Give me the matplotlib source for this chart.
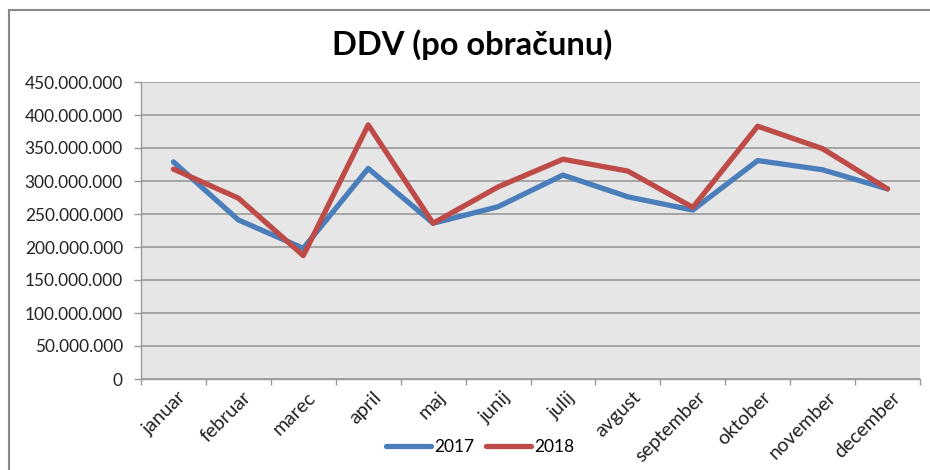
import matplotlib
matplotlib.use("Agg")
import matplotlib.pyplot as plt
from matplotlib.patches import Rectangle
from matplotlib.ticker import FuncFormatter, FixedLocator
from matplotlib.transforms import ScaledTranslation

plt.rcParams['font.family'] = ['Lato', 'DejaVu Sans']

months = ["januar", "februar", "marec", "april", "maj", "junij", "julij",
          "avgust", "september", "oktober", "november", "december"]
v2017 = [329e6, 241e6, 198e6, 319e6, 236e6, 261e6, 309e6, 276e6, 256e6, 331e6, 317e6, 288e6]
v2018 = [318e6, 274e6, 187e6, 385e6, 236e6, 291e6, 333e6, 315e6, 260e6, 383e6, 349e6, 288e6]
yticks = [0, 50e6, 100e6, 150e6, 200e6, 250e6, 300e6, 350e6, 400e6, 450e6]

fig = plt.figure(figsize=(9.3, 4.7), dpi=100)
ax = fig.add_axes([141/930, 1-379/470, (920-141)/930, (379-82)/470])
ax.set_facecolor('#E6E6E6')

x = list(range(len(months)))
ax.plot(x, v2017, color='#4A7EBB', lw=3.8, label='2017', solid_capstyle='round', solid_joinstyle='round')
ax.plot(x, v2018, color='#BE4B48', lw=3.8, label='2018', solid_capstyle='round', solid_joinstyle='round')

ax.set_xlim(-0.5, len(months)-0.5)
ax.set_ylim(0, 450e6)
ax.set_yticks(yticks)
ax.yaxis.set_major_formatter(FuncFormatter(lambda v, p: f"{int(v):,}".replace(",", ".")))
ax.tick_params(axis='y', labelsize=12.4, length=5, color='#999999', width=1, pad=8, labelcolor='#222222')
ax.grid(axis='y', color='#A0A0A0', lw=1.3)
ax.set_axisbelow(True)
# hide 400M gridline and tick (as in reference)
for t in ax.yaxis.get_major_ticks():
    if abs(t.get_loc() - 400e6) < 1:
        t.gridline.set_visible(False)
        t.tick1line.set_visible(False)

ax.set_xticks(x)
ax.set_xticklabels(months, rotation=45, ha='right', va='top', rotation_mode='anchor', fontsize=14, color='#222222')
ax.tick_params(axis='x', which='major', length=0, pad=7)
offset = ScaledTranslation(4/100, 0, fig.dpi_scale_trans)
for lab in ax.get_xticklabels():
    lab.set_transform(lab.get_transform() + offset)
ax.xaxis.set_minor_locator(FixedLocator([i - 0.5 for i in range(len(months)+1)]))
ax.tick_params(axis='x', which='minor', length=4, color='#999999', width=1)

for s in ['top', 'right']:
    ax.spines[s].set_visible(False)
for s in ['left', 'bottom']:
    ax.spines[s].set_color('#999999')
    ax.spines[s].set_linewidth(1)

fig.text(472/930, 1-45/470, "DDV (po obračunu)", ha='center', va='center', fontsize=23.5, fontweight='bold', color='#000000')

leg = fig.legend(loc='center', bbox_to_anchor=(480/930, 1-447/470), ncol=2, frameon=False,
                 fontsize=12.5, handlelength=2.6, columnspacing=0.7, handletextpad=0.15)

fig.patches.append(Rectangle((9/930, -0.1), 1.2, 1-10/470+0.1, transform=fig.transFigure,
                             fill=False, edgecolor='#888888', lw=1.5))

fig.savefig("out.png", dpi=100)
